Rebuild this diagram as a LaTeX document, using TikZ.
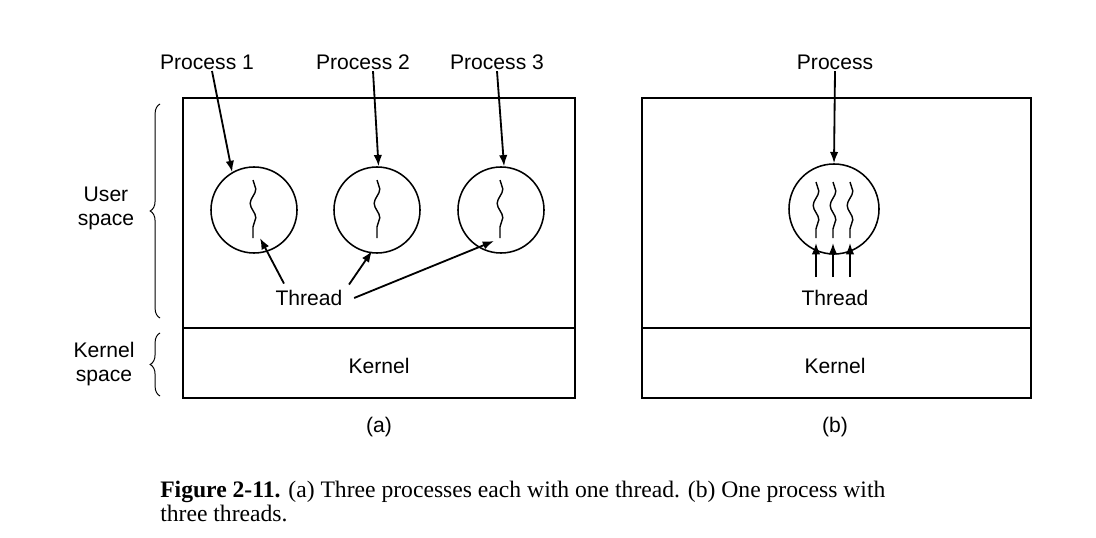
\documentclass[tikz,border=0pt]{standalone}
\usepackage{fontspec}
\setmainfont{Liberation Sans}
\newfontfamily\capfont{Liberation Serif}
\usetikzlibrary{positioning, arrows.meta, decorations.pathmorphing, decorations.pathreplacing}
\tikzset{x=0.025cm,y=-0.025cm,
  lbl/.style={font=\fontsize{15}{17}\selectfont, inner sep=1pt, align=center},
  proc/.style={circle, draw, line width=1.1pt, minimum size=2.15cm, inner sep=0pt},
  arr/.style={-{Latex[length=8pt,width=6pt]}, line width=1.3pt},
  wiggle/.style={decorate, decoration={snake, amplitude=2pt, segment length=0.72cm}, line width=1pt},
  brace/.style={decorate, decoration={brace, amplitude=7pt}, line width=0.7pt}}

\begin{document}
\begin{tikzpicture}
\useasboundingbox (0,0) rectangle (1096,538);
% (a)
\draw[line width=1.1pt] (183,98) rectangle (575,398);
\draw[line width=1.1pt] (183,328) -- (575,328);
\node[proc] (c1) at (254,210) {};
\node[proc] (c2) at (377,210) {};
\node[proc] (c3) at (501,210) {};
\draw[wiggle] (253,180) -- (253,238);
\draw[wiggle] (377,180) -- (377,238);
\draw[wiggle] (500,180) -- (500,238);
\node[lbl] (p1) at (207,62) {Process 1};
\node[lbl] (p2) at (363,62) {Process 2};
\node[lbl] (p3) at (497,62) {Process 3};
\draw[arr] (p1.south) ++(5,0) -- (c1.120);
\draw[arr] (p2.south) ++(10,0) -- (c2.88);
\draw[arr] (p3.south) ++(0,0) -- (c3.86);
\node[lbl] (th) at (309,298) {Thread};
\coordinate (t1) at (260,238);
\coordinate (t2) at (372,251);
\coordinate (t3) at (494,241);
\draw[arr] (th.north) ++(-25,-5) -- (t1);
\draw[arr] (th.north) ++(40,-4) -- (t2);
\draw[arr] (th.east) ++(10,0) -- (t3);
\node[lbl] (k1) at (379,366) {Kernel};
\node[lbl] (a) at (379,427) {(a)};
% (b)
\draw[line width=1.1pt] (642,98) rectangle (1031,398);
\draw[line width=1.1pt] (642,328) -- (1031,328);
\node[proc, minimum size=2.25cm] (c4) at (834,209) {};
\foreach \x in {816,833,850} {
  \draw[wiggle] (\x,182) -- (\x,238);
  \draw[arr] (\x,277) -- (\x,243);
}
\node[lbl] (p4) at (835,62) {Process};
\draw[arr] (p4.south) -- (c4.north);
\node[lbl] (th2) at (835,298) {Thread};
\node[lbl] (k2) at (835,366) {Kernel};
\node[lbl] (b) at (835,427) {(b)};
% braces
\draw[brace] (160,318) -- (160,104);
\draw[brace] (160,396) -- (160,333);
\node[lbl] (us) at (106,208) {User\\space};
\node[lbl] (ks) at (104,364) {Kernel\\space};
% caption
\node[anchor=north west, align=left, inner sep=0pt, font=\capfont\fontsize{16.8}{17.2}\selectfont] (cap) at (160,481)
  {\textbf{Figure 2-11.} (a) Three processes each with one thread. (b) One process with\\three threads.};
\end{tikzpicture}
\end{document}
